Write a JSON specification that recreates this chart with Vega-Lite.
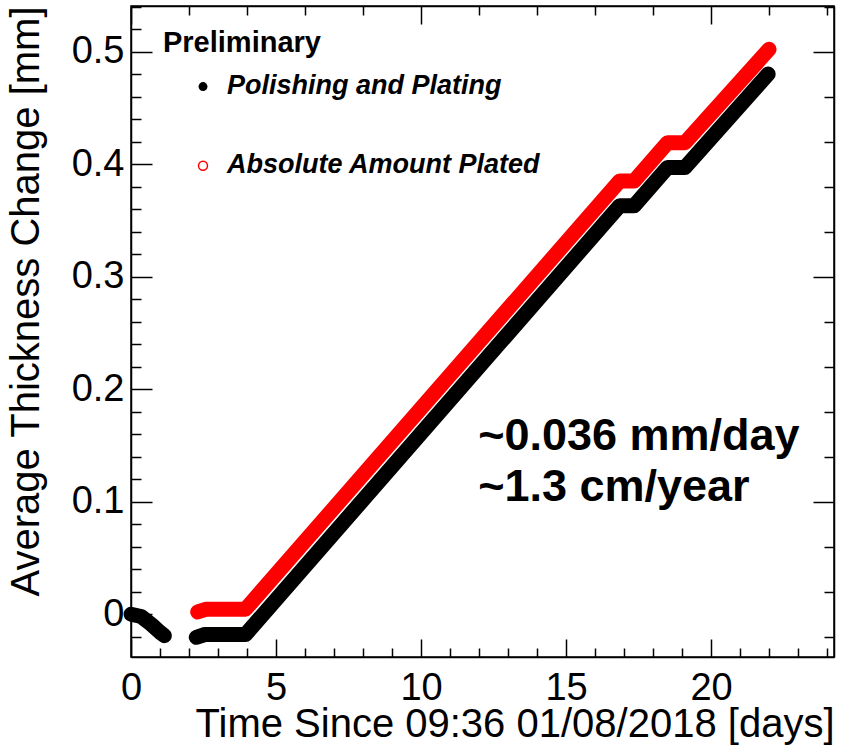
{
  "$schema": "https://vega.github.io/schema/vega-lite/v6.json",
  "width": 703,
  "height": 651,
  "autosize": {"type": "none"},
  "padding": {"left": 131, "top": 6, "right": 12, "bottom": 90},
  "background": "white",
  "config": {
    "view": {"stroke": "black", "strokeWidth": 1.5},
    "font": "Liberation Sans",
    "axis": {
      "grid": false,
      "domainColor": "black",
      "domainWidth": 1.5,
      "tickColor": "black",
      "tickWidth": 1.5,
      "labelColor": "black",
      "labelFont": "Liberation Sans",
      "labelFontSize": 38,
      "labelOverlap": false,
      "labelFlush": false,
      "titleColor": "black",
      "titleFont": "Liberation Sans",
      "titleFontSize": 40,
      "titleFontWeight": "normal"
    }
  },
  "resolve": {"scale": {"x": "independent", "y": "independent"}},
  "layer": [
    {
      "data": {
        "values": [
          {"series": "Polishing and Plating", "seg": "b1", "t": 0.0, "v": 0.0},
          {"series": "Polishing and Plating", "seg": "b1", "t": 0.35, "v": -0.002},
          {"series": "Polishing and Plating", "seg": "b1", "t": 0.7, "v": -0.009},
          {"series": "Polishing and Plating", "seg": "b1", "t": 1.0, "v": -0.016},
          {"series": "Polishing and Plating", "seg": "b1", "t": 1.15, "v": -0.019},
          {"series": "Polishing and Plating", "seg": "b2", "t": 2.25, "v": -0.0205},
          {"series": "Polishing and Plating", "seg": "b2", "t": 2.55, "v": -0.018},
          {"series": "Polishing and Plating", "seg": "b2", "t": 3.95, "v": -0.018},
          {"series": "Polishing and Plating", "seg": "b2", "t": 16.85, "v": 0.363},
          {"series": "Polishing and Plating", "seg": "b2", "t": 17.35, "v": 0.363},
          {"series": "Polishing and Plating", "seg": "b2", "t": 18.5, "v": 0.397},
          {"series": "Polishing and Plating", "seg": "b2", "t": 19.1, "v": 0.397},
          {"series": "Polishing and Plating", "seg": "b2", "t": 21.97, "v": 0.48},
          {"series": "Absolute Amount Plated", "seg": "r1", "t": 2.3, "v": 0.002},
          {"series": "Absolute Amount Plated", "seg": "r1", "t": 2.6, "v": 0.0045},
          {"series": "Absolute Amount Plated", "seg": "r1", "t": 3.95, "v": 0.0045},
          {"series": "Absolute Amount Plated", "seg": "r1", "t": 16.85, "v": 0.385},
          {"series": "Absolute Amount Plated", "seg": "r1", "t": 17.35, "v": 0.385},
          {"series": "Absolute Amount Plated", "seg": "r1", "t": 18.5, "v": 0.419},
          {"series": "Absolute Amount Plated", "seg": "r1", "t": 19.1, "v": 0.419},
          {"series": "Absolute Amount Plated", "seg": "r1", "t": 22.0, "v": 0.502}
        ]
      },
      "mark": {"type": "line", "strokeWidth": 15, "strokeCap": "round", "strokeJoin": "round"},
      "encoding": {
        "x": {
          "field": "t",
          "type": "quantitative",
          "scale": {"domain": [0, 24.24], "nice": false, "zero": false},
          "axis": {
            "orient": "bottom",
            "values": [0,1,2,3,4,5,6,7,8,9,10,11,12,13,14,15,16,17,18,19,20,21,22,23,24],
            "labelExpr": "datum.value % 5 === 0 ? datum.label : ''",
            "tickSize": {"condition": {"test": "datum.value % 5 === 0", "value": -18}, "value": -9},
            "labelPadding": 30,
            "title": "Time Since 09:36 01/08/2018 [days]",
            "titleAnchor": "end",
            "titlePadding": -12
          }
        },
        "y": {
          "field": "v",
          "type": "quantitative",
          "scale": {"domain": [-0.038, 0.5405], "nice": false, "zero": false},
          "axis": {
            "orient": "left",
            "values": [-0.02,0,0.02,0.04,0.06,0.08,0.1,0.12,0.14,0.16,0.18,0.2,0.22,0.24,0.26,0.28,0.3,0.32,0.34,0.36,0.38,0.4,0.42,0.44,0.46,0.48,0.5,0.52,0.54],
            "labelExpr": "abs(round(datum.value*100)) % 10 === 0 ? format(datum.value, '.1~f') : ''",
            "tickSize": {"condition": {"test": "abs(round(datum.value*100)) % 10 === 0", "value": -21}, "value": -10},
            "labelPadding": 28,
            "title": "Average Thickness Change [mm]",
            "titleAnchor": "end",
            "titlePadding": 25
          }
        },
        "color": {
          "field": "series",
          "type": "nominal",
          "scale": {"domain": ["Polishing and Plating", "Absolute Amount Plated"], "range": ["#000000", "#ff0000"]},
          "legend": null
        },
        "detail": {"field": "seg"}
      }
    },
    {
      "data": {"values": [{}]},
      "layer": [
        {
          "mark": {
            "type": "text",
            "text": ["~0.036 mm/day", "~1.3 cm/year"],
            "font": "Liberation Sans",
            "fontSize": 45,
            "fontWeight": "bold",
            "color": "black",
            "align": "left",
            "baseline": "alphabetic",
            "lineHeight": 51
          },
          "encoding": {
            "x": {
              "datum": 11.97,
              "type": "quantitative",
              "scale": {"domain": [0, 24.24], "nice": false, "zero": false},
              "axis": {
                "orient": "top",
                "values": [0,1,2,3,4,5,6,7,8,9,10,11,12,13,14,15,16,17,18,19,20,21,22,23,24],
                "labels": false,
                "title": null,
                "tickSize": {"condition": {"test": "datum.value % 5 === 0", "value": -18}, "value": -9}
              }
            },
            "y": {
              "datum": 0.146,
              "type": "quantitative",
              "scale": {"domain": [-0.038, 0.5405], "nice": false, "zero": false},
              "axis": {
                "orient": "right",
                "values": [-0.02,0,0.02,0.04,0.06,0.08,0.1,0.12,0.14,0.16,0.18,0.2,0.22,0.24,0.26,0.28,0.3,0.32,0.34,0.36,0.38,0.4,0.42,0.44,0.46,0.48,0.5,0.52,0.54],
                "labels": false,
                "title": null,
                "tickSize": {"condition": {"test": "abs(round(datum.value*100)) % 10 === 0", "value": -21}, "value": -10}
              }
            }
          }
        },
        {
          "mark": {"type": "text", "text": "Preliminary", "font": "Liberation Sans", "fontSize": 29, "fontWeight": "bold", "color": "black", "align": "left", "baseline": "alphabetic"},
          "encoding": {
            "x": {"datum": 1.103, "type": "quantitative"},
            "y": {"datum": 0.5, "type": "quantitative"}
          }
        },
        {
          "mark": {"type": "point", "shape": "circle", "size": 80, "filled": true, "color": "black", "opacity": 1},
          "encoding": {
            "x": {"datum": 2.483, "type": "quantitative"},
            "y": {"datum": 0.4689, "type": "quantitative"}
          }
        },
        {
          "mark": {"type": "point", "shape": "circle", "size": 80, "filled": false, "stroke": "#ff0000", "strokeWidth": 1.5, "opacity": 1},
          "encoding": {
            "x": {"datum": 2.483, "type": "quantitative"},
            "y": {"datum": 0.3986, "type": "quantitative"}
          }
        },
        {
          "mark": {"type": "text", "text": "Polishing and Plating", "font": "Liberation Sans", "fontSize": 27, "fontWeight": "bold", "fontStyle": "italic", "color": "black", "align": "left", "baseline": "alphabetic"},
          "encoding": {
            "x": {"datum": 3.31, "type": "quantitative"},
            "y": {"datum": 0.4626, "type": "quantitative"}
          }
        },
        {
          "mark": {"type": "text", "text": "Absolute Amount Plated", "font": "Liberation Sans", "fontSize": 27, "fontWeight": "bold", "fontStyle": "italic", "color": "black", "align": "left", "baseline": "alphabetic"},
          "encoding": {
            "x": {"datum": 3.31, "type": "quantitative"},
            "y": {"datum": 0.3923, "type": "quantitative"}
          }
        }
      ]
    }
  ]
}
